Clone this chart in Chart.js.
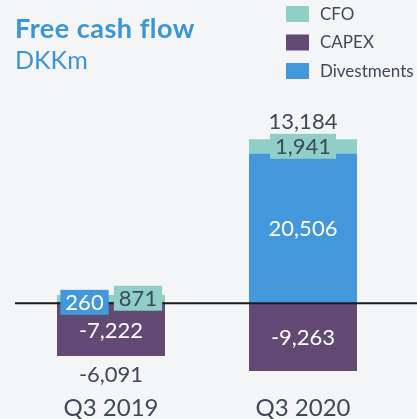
<!DOCTYPE html>
<html>
<head>
<meta charset="utf-8">
<script src="https://cdn.jsdelivr.net/npm/chart.js@4/dist/chart.umd.min.js"></script>
<style>
  body { margin: 0; background: #f4f5f7; }
  #wrap { width: 417px; height: 419px; position: relative; }
</style>
</head>
<body>
<div id="wrap"><canvas id="chart"></canvas></div>
<script>
const categories = ['Q3 2019', 'Q3 2020']
const cfo = [871, 1941]
const capex = [-7222, -9263]
const divestments = [260, 20506]

const textDark = '#3c4a5b'
const fmt = v => v.toLocaleString('en-US')

const freeCashPlugin = {
  id: 'freeCash',
  afterDatasetsDraw (chart) {
    const { ctx, scales: { y } } = chart
    const y0 = y.getPixelForValue(0)
    ctx.save()
    // zero line
    ctx.strokeStyle = '#1b1b1b'
    ctx.lineWidth = 2
    ctx.beginPath()
    ctx.moveTo(15, y0)
    ctx.lineTo(chart.width, y0)
    ctx.stroke()

    // segment labels, boxed in the dataset colour
    ctx.font = '22px Lato'
    ctx.textAlign = 'center'
    ctx.textBaseline = 'middle'
    chart.data.datasets.forEach((ds, i) => {
      chart.getDatasetMeta(i).data.forEach((bar, j) => {
        const text = fmt(ds.data[j])
        const shift = (ds.labelShift || [])[j] || 0
        const cx = bar.x + shift
        const cy = (bar.y + bar.base) / 2
        const w = ctx.measureText(text).width + 10
        ctx.fillStyle = ds.backgroundColor
        ctx.fillRect(cx - w / 2, cy - 12.5, w, 25)
        ctx.fillStyle = ds.labelColor
        ctx.fillText(text, cx, cy + 1)
      })
    })

    // totals above / below each stack
    categories.forEach((c, j) => {
      const total = chart.data.datasets.reduce((s, ds) => s + ds.data[j], 0)
      const bars = chart.data.datasets.map((ds, i) => chart.getDatasetMeta(i).data[j])
      const x = bars[0].x
      ctx.fillStyle = textDark
      if (total >= 0) {
        const top = Math.min(...bars.map(b => Math.min(b.y, b.base)))
        ctx.fillText(fmt(total), x, top - 17)
      } else {
        const bottom = Math.max(...bars.map(b => Math.max(b.y, b.base)))
        ctx.fillText(fmt(total), x, bottom + 19)
      }
    })
    ctx.restore()
  },
  afterDraw (chart) {
    const { ctx } = chart
    ctx.save()
    ctx.fillStyle = '#3b95d7'
    ctx.textAlign = 'left'
    ctx.textBaseline = 'alphabetic'
    ctx.font = 'bold 27px Lato'
    ctx.letterSpacing = '0.5px'
    ctx.fillText('Free cash flow', 15, 38)
    ctx.letterSpacing = '0px'
    ctx.font = '25px Lato'
    ctx.fillText('DKKm', 15, 69)

    // legend
    const order = [1, 2, 0]
    ctx.font = '17px Lato'
    ctx.textBaseline = 'middle'
    order.forEach((i, k) => {
      const ds = chart.data.datasets[i]
      const top = 6 + k * 28.5
      ctx.fillStyle = ds.backgroundColor
      ctx.fillRect(286, top, 23, 16)
      ctx.fillStyle = textDark
      ctx.fillText(ds.label, 320, top + 8.5)
    })
    ctx.restore()
  }
}

new Chart(document.getElementById('chart'), {
  type: 'bar',
  data: {
    labels: categories,
    datasets: [
      {
        label: 'Divestments',
        data: divestments,
        backgroundColor: '#4298da',
        labelColor: '#ffffff',
        labelShift: [-26.5, 0]
      },
      {
        label: 'CFO',
        data: cfo,
        backgroundColor: '#8fcfc7',
        labelColor: textDark,
        labelShift: [27, 0]
      },
      {
        label: 'CAPEX',
        data: capex,
        backgroundColor: '#634a74',
        labelColor: '#ffffff'
      }
    ]
  },
  options: {
    responsive: true,
    maintainAspectRatio: false,
    animation: false,
    datasets: {
      bar: {
        barPercentage: 0.5625,
        categoryPercentage: 1,
        borderWidth: 0
      }
    },
    layout: {
      padding: { top: 84, left: 15, right: 18, bottom: -7 }
    },
    plugins: {
      legend: { display: false },
      title: { display: false },
      tooltip: { enabled: false }
    },
    scales: {
      x: {
        stacked: true,
        grid: { display: false, drawTicks: false },
        border: { display: false },
        ticks: {
          color: textDark,
          padding: 5.5,
          font: { family: 'Lato', size: 24, lineHeight: 1 }
        }
      },
      y: {
        stacked: true,
        display: false,
        min: -12000,
        max: 30000
      }
    }
  },
  plugins: [freeCashPlugin]
})
</script>
</body>
</html>
